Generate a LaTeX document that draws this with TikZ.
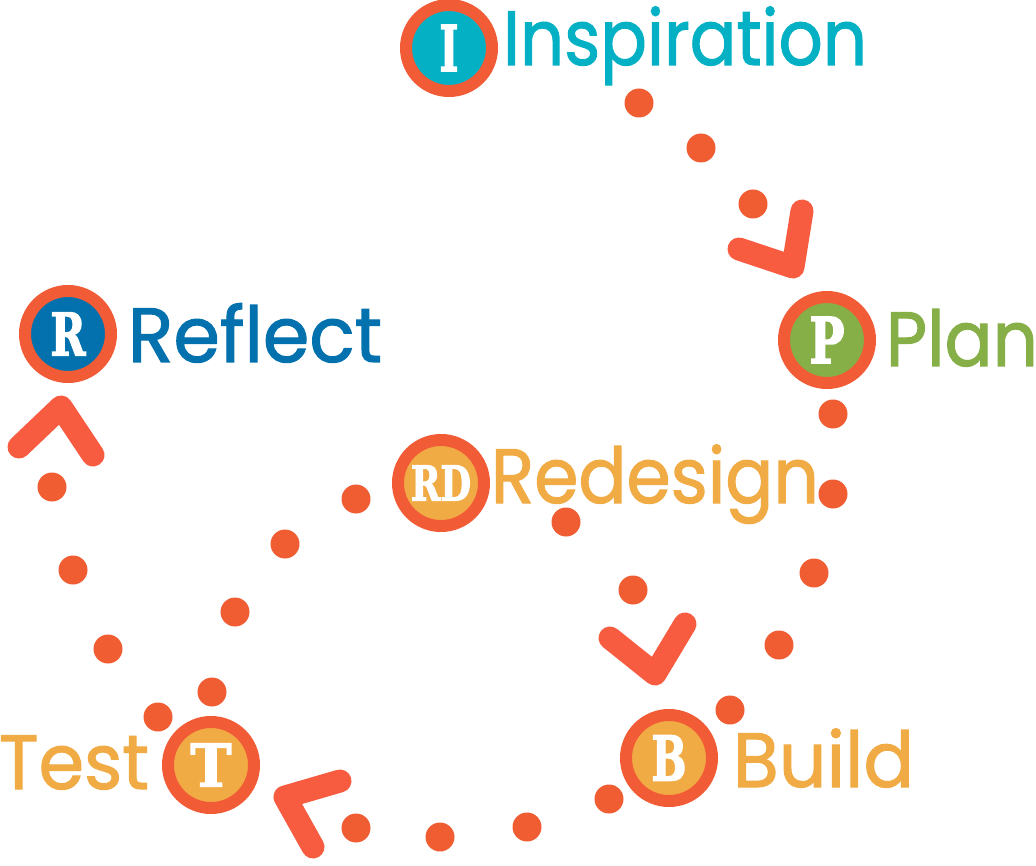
\documentclass[tikz,border=0pt]{standalone}
\usepackage{fontspec}
\setmainfont{Poppins}
\newfontfamily\labfont{Poppins}[FakeBold=1.4]
\newfontfamily\letterfont{DejaVu Serif Bold}[FakeBold=2.5]
\definecolor{ringc}{HTML}{F15B35}
\definecolor{dotc}{HTML}{F15D33}
\definecolor{chevc}{HTML}{F75B40}
\definecolor{tealc}{HTML}{04B1C4}
\definecolor{greenc}{HTML}{86AF48}
\definecolor{bluec}{HTML}{0271AD}
\definecolor{amberc}{HTML}{F1AB45}
\newcommand{\lbl}[3]{\textcolor{#1}{\resizebox{#2pt}{\height}{\fontsize{77}{80}\labfont #3}}}
\newcommand{\ltr}[3]{\resizebox{#1pt}{#2pt}{\fontsize{62}{64}\letterfont #3}}
\tikzset{
  ring/.style={circle, draw=ringc, line width=12pt, minimum size=86pt, inner sep=0pt, text=white},
  lab/.style={anchor=base west, inner sep=0pt, outer sep=0pt},
  chev/.style={draw=chevc, line width=23pt, line cap=round, line join=round},
  dotmark/.style={fill=dotc}
}
\begin{document}
\begin{tikzpicture}[x=1pt,y=-1pt]
\useasboundingbox (0,0) rectangle (1036,866);
% circles
\node[ring, fill=tealc]  (I)  at (449,48)  {\ltr{19}{46}{I}};
\node[ring, fill=greenc] (P)  at (827,340) {\ltr{35}{46}{P}};
\node[ring, fill=bluec]  (R)  at (68,334)  {\ltr{35}{43}{R}};
\node[ring, fill=amberc] (RD) at (441,483) {\ltr{60}{35}{RD}};
\node[ring, fill=amberc] (B)  at (669,758) {\ltr{35}{45}{B}};
\node[ring, fill=amberc] (T)  at (211,765) {\ltr{41}{43}{T}};
% labels
\node[lab] (Il) at (503,65)  {\lbl{tealc}{364}{Inspiration}};
\node[lab] (Pl) at (886,366) {\lbl{greenc}{152}{Plan}};
\node[lab] (Rl) at (128,362) {\lbl{bluec}{254}{Reflect}};
\node[lab] (RDl) at (491,503) {\lbl{amberc}{328}{Redesign}};
\node[lab] (Bl) at (733,787) {\lbl{amberc}{181}{Build}};
\node[lab] (Tl) at (-1,789) {\lbl{amberc}{150}{Test}};
% dots
\foreach \x/\y in {639/103,701/148,753/204,
  833/414,833/494,814/573,779/645,730/710,
  609/799,527/827,440/837,356/828,
  158/717,108/649,73/570,52/487,
  356/499,285/544,235/612,212/692,
  566/522,633/590}
  \fill[dotmark] (\x,\y) circle (14.5pt);
% chevrons
\coordinate (c1a) at (739,249); \coordinate (c1b) at (793,267); \coordinate (c1c) at (802,211);
\draw[chev] (c1a) -- (c1b) -- (c1c);
\coordinate (c2a) at (610,638); \coordinate (c2b) at (655,674); \coordinate (c2c) at (685,624);
\draw[chev] (c2a) -- (c2b) -- (c2c);
\coordinate (c3a) at (340,781); \coordinate (c3b) at (285,797); \coordinate (c3c) at (313,847);
\draw[chev] (c3a) -- (c3b) -- (c3c);
\coordinate (c4a) at (19,447); \coordinate (c4b) at (61,407); \coordinate (c4c) at (93,455);
\draw[chev] (c4a) -- (c4b) -- (c4c);
\end{tikzpicture}
\end{document}
